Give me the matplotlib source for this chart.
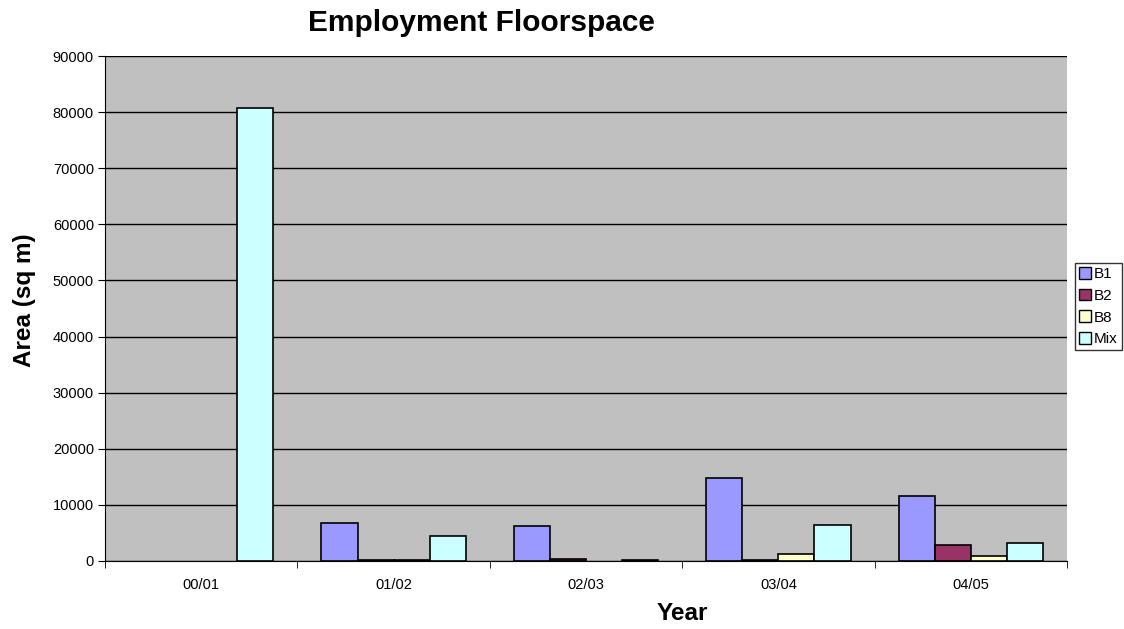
import numpy as np
import matplotlib
matplotlib.use("Agg")
import matplotlib.pyplot as plt
from matplotlib.patches import Patch
from matplotlib.ticker import FixedLocator, NullFormatter

plt.rcParams['font.family'] = ['Liberation Sans', 'DejaVu Sans']

## data
years = ["00/01", "01/02", "02/03", "03/04", "04/05"]
b1 = [0, 6750, 6150, 14800, 11500]
b2 = [0, 150, 300, 150, 2900]
b8 = [0, 120, 0, 1200, 920]
mix = [80800, 4400, 250, 6400, 3150]

series = [("B1", b1, "#9999FF"), ("B2", b2, "#993366"),
          ("B8", b8, "#FFFFCC"), ("Mix", mix, "#CCFFFF")]

fig = plt.figure(figsize=(11.24, 6.29), dpi=100)
ax = fig.add_axes([105/1124, 68/629, 962/1124, 505/629])
ax.set_facecolor("#C0C0C0")

x = np.arange(len(years))
w = 0.1875
handles = []
for i, (name, vals, col) in enumerate(series):
    bars = ax.bar(x + (i - 1.5) * w, vals, width=w, color=col, edgecolor="black",
                  linewidth=1.2, zorder=3)
    for b, v in zip(bars, vals):
        if v == 0:
            b.set_visible(False)   ## excel draws nothing for empty values
    handles.append(Patch(facecolor=col, edgecolor="black", linewidth=1, label=name))

ax.set_xlim(-0.5, len(years) - 0.5)
ax.set_ylim(0, 90000)
ax.set_yticks(np.arange(0, 90001, 10000))
ax.yaxis.grid(True, color="black", linewidth=1, zorder=0)
ax.set_axisbelow(True)

## category boundaries carry the ticks, labels sit in the middle
ax.set_xticks(x)
ax.set_xticklabels(years)
ax.xaxis.set_minor_locator(FixedLocator(np.arange(-0.5, len(years), 1.0)))
ax.xaxis.set_minor_formatter(NullFormatter())
ax.tick_params(axis="x", which="major", length=0, labelsize=10.5, pad=12)
ax.tick_params(axis="x", which="minor", length=5, direction="out", color="black")
ax.tick_params(axis="y", length=5, direction="out", labelsize=10.5, pad=3)

for s in ["top", "right"]:
    ax.spines[s].set_visible(False)
ax.spines["left"].set_color("black")
ax.spines["bottom"].set_color("black")

fig.text(481/1124, 1 - 23/629, "Employment Floorspace", ha="center", va="center",
         fontsize=21.5, fontweight="bold")
fig.text(25/1124, 1 - 300/629, "Area (sq m)", ha="center", va="center",
         rotation=90, fontsize=17.5, fontweight="bold")
fig.text(682/1124, 1 - 614/629, "Year", ha="center", va="center",
         fontsize=17.5, fontweight="bold")

leg = fig.legend(handles=handles, loc="upper left",
                 bbox_to_anchor=(1075/1124, 1 - 263/629),
                 fontsize=11, frameon=True, fancybox=False, handlelength=0.8,
                 handleheight=0.8, handletextpad=0.2, borderpad=0.25,
                 labelspacing=0.5, borderaxespad=0)
leg.get_frame().set_edgecolor("black")
leg.get_frame().set_linewidth(1)

fig.savefig("out.png", dpi=100)
